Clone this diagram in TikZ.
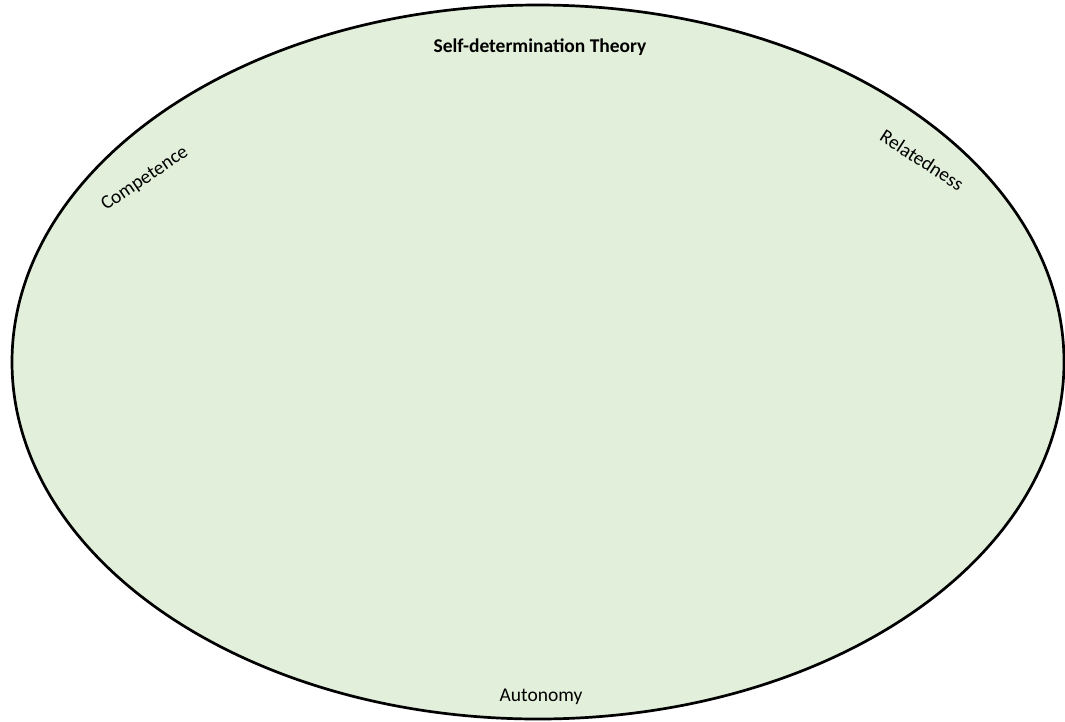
\documentclass[tikz,border=0pt]{standalone}
\usepackage{fontspec}
\setmainfont{Carlito}
\usetikzlibrary{shapes.geometric}
\definecolor{sdtgreen}{HTML}{E2EFDA}
\begin{document}
\begin{tikzpicture}[x=1pt,y=-1pt,
  lbl/.style={font=\fontsize{19.5}{23}\selectfont, inner sep=0pt},
  ttl/.style={font=\fontsize{19.5}{23}\selectfont\bfseries, inner sep=0pt}]
\useasboundingbox (0,0) rectangle (1065,721);
\node[draw=black, line width=2.7pt, fill=sdtgreen, ellipse, minimum width=1052pt, minimum height=714pt, inner sep=0pt] (ell) at (538,362) {};
\node[ttl] (title) at (540,47) {Self-determination Theory};
\node[lbl, rotate=34] (comp) at (145,179) {Competence};
\node[lbl, rotate=-33] (rel) at (922,160) {Relatedness};
\node[lbl] (aut) at (541,697) {Autonomy};
\end{tikzpicture}
\end{document}
